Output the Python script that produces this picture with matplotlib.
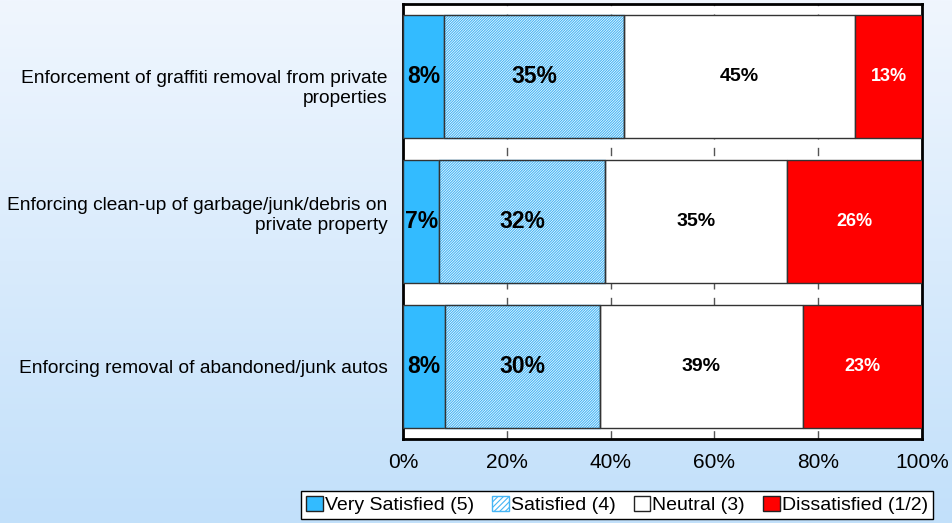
import numpy as np
import matplotlib.pyplot as plt
import matplotlib.transforms as mtransforms
from matplotlib.colors import LinearSegmentedColormap

plt.rcParams['font.family'] = ['Liberation Sans', 'DejaVu Sans']
plt.rcParams['hatch.linewidth'] = 0.8

items = [
    "Enforcement of graffiti removal from private\nproperties",
    "Enforcing clean-up of garbage/junk/debris on\nprivate property",
    "Enforcing removal of abandoned/junk autos",
]
very_satisfied = [8, 7, 8]
satisfied = [35, 32, 30]
neutral = [45, 35, 39]
dissatisfied = [13, 26, 23]

series = [
    ("Very Satisfied (5)", very_satisfied),
    ("Satisfied (4)", satisfied),
    ("Neutral (3)", neutral),
    ("Dissatisfied (1/2)", dissatisfied),
]
HATCH = "/" * 13
HATCH_COLOR = "#45b5f5"
styles = [
    dict(color="#33bbff", hatch=None),
    dict(color="white", hatch=HATCH),
    dict(color="white", hatch=None),
    dict(color="#ff0000", hatch=None),
]
label_fmt = [
    dict(size=16.5, color="black"),
    dict(size=16.5, color="black"),
    dict(size=14, color="black"),
    dict(size=13, color="white"),
]

fig = plt.figure(figsize=(9.53, 5.23), dpi=100)

# soft blue backdrop
bg = fig.add_axes([0, 0, 1, 1], zorder=-10)
cmap = LinearSegmentedColormap.from_list("bg", ["#f0f6fe", "#c2e0fa"])
bg.imshow(np.linspace(0, 1, 256).reshape(-1, 1), aspect="auto", cmap=cmap,
          extent=[0, 1, 0, 1])
bg.axis("off")

ax = fig.add_axes([403 / 953, 1 - 439 / 523, 519 / 953, 435 / 523])
ax.set_facecolor("white")

y = np.arange(len(items))
totals = np.sum([v for _, v in series], axis=0)
left = np.zeros(len(items))
for (name, vals), st, fmt in zip(series, styles, label_fmt):
    widths = np.array(vals) / totals * 100
    bars = ax.barh(y, widths, left=left, height=0.85, color=st["color"],
                   edgecolor="#333333", linewidth=1.0, zorder=3, label=name)
    if st["hatch"]:
        for b in bars:
            b.set_hatch(st["hatch"])
            b.set_edgecolor(HATCH_COLOR)
        # dark outlines over the hatched bars
        ax.barh(y, widths, left=left, height=0.85, color="none",
                edgecolor="#333333", linewidth=1.0, zorder=4)
    for yi, w, l, v in zip(y, widths, left, vals):
        ax.text(l + w / 2, yi, f"{v}%", ha="center", va="center",
                fontweight="bold", zorder=5, **fmt)
    left += widths

ax.set_xlim(0, 100)
ax.set_ylim(2.5, -0.5)
ax.set_yticks(y)
ax.set_yticklabels(items, fontsize=13.8, linespacing=1.25)
ax.set_xticks(np.arange(0, 101, 20))
ax.set_xticklabels([f"{t}%" for t in range(0, 101, 20)], fontsize=15)
ax.tick_params(axis="y", length=0, pad=11)
ax.tick_params(axis="x", length=0, pad=10)
ax.grid(axis="x", color="#555555", linestyle=(0, (6, 6)), linewidth=1.0, zorder=1)
ax.set_axisbelow(True)
for s in ax.spines.values():
    s.set_linewidth(2)
    s.set_color("black")

# nudge the two-line labels vertically (points)
for lab, dy in zip(ax.get_yticklabels(), [-6, 6.8, 0]):
    lab.set_transform(lab.get_transform() +
                      mtransforms.ScaledTranslation(0, dy / 72, fig.dpi_scale_trans))

handles, labels = ax.get_legend_handles_labels()
leg = fig.legend(handles, labels, loc="center", bbox_to_anchor=(617 / 953, 1 - 505 / 523),
                 ncol=4, fontsize=14, frameon=True, fancybox=False,
                 handlelength=0.85, handleheight=0.85, handletextpad=0.1,
                 columnspacing=0.95, borderpad=0.25, borderaxespad=0)
leg.get_frame().set_edgecolor("black")
leg.get_frame().set_linewidth(1.0)
leg.get_frame().set_facecolor("white")
leg.get_frame().set_alpha(1)
for h in leg.legend_handles:
    h.set_edgecolor("#222222")
leg.legend_handles[1].set_hatch("/" * 6)
leg.legend_handles[1].set_edgecolor(HATCH_COLOR)

fig.savefig("out.png", dpi=100)
